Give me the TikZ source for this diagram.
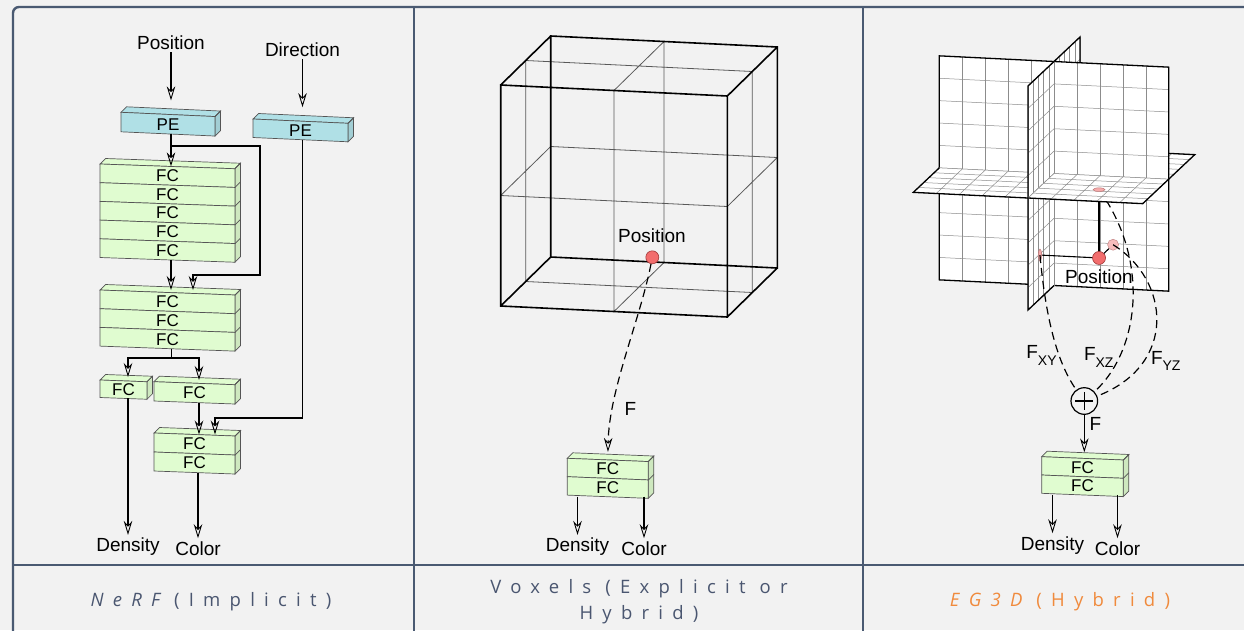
\documentclass[tikz,border=0pt]{standalone}
\usepackage{fontspec}
\setmainfont{Liberation Sans}
\newfontfamily\capfont[LetterSpace=50]{Open Sans}
\usetikzlibrary{arrows.meta,calc}
\definecolor{bgc}{HTML}{F2F2F2}
\definecolor{frame}{HTML}{4A5A72}
\definecolor{pefill}{HTML}{B0E0E6}
\definecolor{fcfill}{HTML}{E0FCD0}
\definecolor{boxline}{HTML}{555555}
\definecolor{capc}{HTML}{4A5670}
\definecolor{orng}{HTML}{F08A3C}
\definecolor{ballc}{HTML}{F26D6D}
\definecolor{ballline}{HTML}{A03A3A}
\definecolor{pinkc}{HTML}{F5ABAB}

\tikzset{
  >={Stealth[open,length=14pt,width=8.5pt,inset=4.5pt,line width=0.9pt]},
  lbl/.style={font=\fontsize{19}{22}\selectfont, anchor=base, inner sep=0pt, outer sep=3pt},
  fclbl/.style={font=\fontsize{17}{20}\selectfont, inner sep=0pt},
  arr/.style={line width=1.6pt, ->},
  conn/.style={line width=1.6pt},
  faceline/.style={draw=boxline, line width=0.7pt},
  frameline/.style={draw=frame, line width=2.4pt},
  cubeedge/.style={line width=1.6pt},
  cubemid/.style={line width=0.8pt, draw=black!65},
  gridl/.style={line width=0.5pt, draw=black!45},
  pedge/.style={line width=1.3pt},
  dashc/.style={line width=1.2pt, dash pattern=on 8pt off 5pt},
  ball/.style={circle, minimum size=13pt, inner sep=0pt, fill=ballc, draw=ballline, line width=0.6pt},
  capstyle/.style={font=\capfont\fontsize{18.5}{26}\selectfont, text=capc, align=center},
}

% name, x, y, w, h, n, fill, label, slope
\newcommand\fcblock[9]{%
  \pgfmathsetmacro\bx{#2}\pgfmathsetmacro\by{#3}\pgfmathsetmacro\bw{#4}\pgfmathsetmacro\bh{#5}%
  \pgfmathsetmacro\bs{#4*#9}\pgfmathsetmacro\bH{#5*#6}%
  \filldraw[faceline, fill=#7] (\bx,\by) -- ++(5.5,-5.5) -- ({\bx+\bw+5.5},{\by+\bs-5.5}) -- ({\bx+\bw},{\by+\bs}) -- cycle;
  \filldraw[faceline, fill=#7!92!black] ({\bx+\bw},{\by+\bs}) -- ++(5.5,-5.5) -- ++(0,\bH) -- ({\bx+\bw},{\by+\bs+\bH}) -- cycle;
  \foreach \i in {1,...,#6} {
    \filldraw[faceline, fill=#7] (\bx,{\by+(\i-1)*\bh}) -- ({\bx+\bw},{\by+\bs+(\i-1)*\bh}) -- ++(0,\bh) -- (\bx,{\by+\i*\bh}) -- cycle;
    \draw[faceline] ({\bx+\bw},{\by+\bs+(\i-1)*\bh}) -- ++(5.5,-5.5);
    \node[fclbl] (#1-\i) at ({\bx+\bw/2},{\by+\bs/2+(\i-0.5)*\bh}) {#8};
  }
  \coordinate (#1-top) at ({\bx+\bw/2},{\by+\bs/2});
  \coordinate (#1-bot) at ({\bx+\bw/2},{\by+\bs/2+\bH});
}
\newcommand\xzpatch[4]{%
  \fill[white] ({#1/5},0,{#3/5}) -- ({#2/5},0,{#3/5}) -- ({#2/5},0,{#4/5}) -- ({#1/5},0,{#4/5}) -- cycle;
  \foreach \k in {#1,...,#2} {\draw[gridl] ({\k/5},0,{#3/5}) -- ({\k/5},0,{#4/5});}
  \foreach \k in {#3,...,#4} {\draw[gridl] ({#1/5},0,{\k/5}) -- ({#2/5},0,{\k/5});}
}
\newcommand\yzpatch[4]{%
  \fill[white] (0,{#1/5},{#3/5}) -- (0,{#2/5},{#3/5}) -- (0,{#2/5},{#4/5}) -- (0,{#1/5},{#4/5}) -- cycle;
  \foreach \k in {#1,...,#2} {\draw[gridl] (0,{\k/5},{#3/5}) -- (0,{\k/5},{#4/5});}
  \foreach \k in {#3,...,#4} {\draw[gridl] (0,{#1/5},{\k/5}) -- (0,{#2/5},{\k/5});}
}

\begin{document}
\begin{tikzpicture}[x=1pt,y=-1pt]
\useasboundingbox (0,0) rectangle (1244,630);
\clip (0,0) rectangle (1244,630);
\fill[bgc] (0,0) rectangle (1244,630);

% ---------------- frame ----------------
\draw[frameline, rounded corners=6pt] (13,650) -- (13,7) -- (1260,7);
\draw[frameline] (414,7) -- (414,650) (863,7) -- (863,650) (13,565) -- (1260,565);

% ---------------- NeRF panel ----------------
\fcblock{pe1}{121}{112.3}{94}{19.5}{1}{pefill}{PE}{0.045}
\fcblock{pe2}{253}{119}{95}{18.5}{1}{pefill}{PE}{0.045}
\fcblock{s1}{100}{164}{135}{18.7}{5}{fcfill}{FC}{0.035}
\fcblock{s2}{100}{290}{135}{18.7}{3}{fcfill}{FC}{0.037}
\fcblock{fcd}{100}{380}{47}{17.5}{1}{fcfill}{FC}{0.037}
\fcblock{fcc}{154}{381.7}{81}{19.3}{1}{fcfill}{FC}{0.037}
\fcblock{s3}{154}{433}{81}{19}{2}{fcfill}{FC}{0.037}

\node[lbl] (lpos) at (171,49.3) {Position};
\node[lbl] (ldir) at (302.5,56) {Direction};
\node[lbl] (lden) at (128,551.7) {Density};
\node[lbl] (lcol) at (198,555) {Color};

\coordinate (br1) at (171,146);
\coordinate (br2) at (260,275);
\coordinate (br3) at (193,290);
\coordinate (sp) at (171.5,358);
\coordinate (fcdin) at (128,377);
\coordinate (fccin) at (199,380);
\coordinate (d1) at (215,418);

\draw[arr, shorten >=14pt] (lpos) -- (lpos |- pe1-top);
\draw[arr, shorten >=14pt] (ldir) -- (ldir |- pe2-top);
\draw[arr] (lpos |- pe1-bot) -- (lpos |- s1-top);
\draw[arr] (br1) -| (br2) -| (br3);
\draw[arr] (lpos |- s1-bot) -- (lpos |- br3);
\draw[conn] (sp |- s2-bot) -- (sp);
\draw[arr] (sp) -| (fcdin);
\draw[arr] (sp) -| (fccin);
\draw[arr] (fcdin |- fcd-bot) -- (lden);
\draw[arr] (fccin |- fcc-bot) -- (fccin |- s3-top);
\draw[arr] (ldir |- pe2-bot) |- (d1) -- (d1 |- s3-top);
\draw[arr] (lcol |- s3-bot) -- (lcol);

% ---------------- Voxel panel ----------------
\begin{scope}[shift={(500.7,306)}, x={(226.6pt,-11pt)}, y={(0pt,221pt)}, z={(50pt,49pt)}]
  \draw[cubemid] (0.5,0,0)--(0.5,1,0) (0,0.5,0)--(1,0.5,0) (0.5,0,1)--(0.5,1,1) (0,0.5,1)--(1,0.5,1)
    (0,0.5,0)--(0,0.5,1) (0,0,0.5)--(0,1,0.5) (1,0.5,0)--(1,0.5,1) (1,0,0.5)--(1,1,0.5)
    (0.5,1,0)--(0.5,1,1) (0,1,0.5)--(1,1,0.5) (0.5,0,0)--(0.5,0,1) (0,0,0.5)--(1,0,0.5);
  \draw[cubeedge] (0,0,0)--(1,0,0)--(1,1,0)--(0,1,0)--cycle (0,0,1)--(1,0,1)--(1,1,1)--(0,1,1)--cycle
    (0,0,0)--(0,0,1) (1,0,0)--(1,0,1) (1,1,0)--(1,1,1) (0,1,0)--(0,1,1);
\end{scope}
\fcblock{s4}{567.3}{458.3}{81}{18.4}{2}{fcfill}{FC}{0.04}
\node[lbl] (mposl) at (652,242.7) {Position};
\node[ball] (mpos) at (652.3,257.3) {};
\node[lbl] (mF) at (630.5,415) {F};
\node[lbl] (mden) at (577.5,551.7) {Density};
\node[lbl] (mcol) at (644,555) {Color};
\draw[dashc, ->, shorten >=8pt] (mpos) .. controls (640,320) and (609,390) .. (s4-top);
\draw[arr] (mden |- s4-bot) -- (mden);
\draw[arr] (mcol |- s4-bot) -- (mcol);

% ---------------- EG3D panel ----------------
\begin{scope}[shift={(1054,173.5)}, x={(114.7pt,-5.65pt)}, y={(0pt,112pt)}, z={(26pt,24.5pt)}]
  % back halves
  \xzpatch{-5}{0}{0}{5}
  \draw[pedge] (-1,0,0) -- (-1,0,1) -- (0,0,1);
  \yzpatch{0}{5}{0}{5}
  \draw[pedge] (0,1,0) -- (0,1,1) -- (0,0,1);
  \yzpatch{-5}{0}{0}{5}
  \draw[pedge] (0,-1,0) -- (0,-1,1) -- (0,0,1);
  \xzpatch{0}{5}{0}{5}
  \draw[pedge] (0,0,1) -- (1,0,1) -- (1,0,0);
  % XY plane
  \fill[white] (-1,-1,0) -- (1,-1,0) -- (1,1,0) -- (-1,1,0) -- cycle;
  \foreach \k in {-4,...,4} {\draw[gridl] ({\k/5},-1,0) -- ({\k/5},1,0); \draw[gridl] (-1,{\k/5},0) -- (1,{\k/5},0);}
  \draw[pedge] (-1,-1,0) -- (1,-1,0) -- (1,1,0) -- (-1,1,0) -- cycle;
  % front halves
  \xzpatch{-5}{0}{-5}{0}
  \draw[pedge] (-1,0,0) -- (-1,0,-1) -- (0,0,-1);
  \yzpatch{0}{5}{-5}{0}
  \draw[pedge] (0,1,0) -- (0,1,-1) -- (0,0,-1);
  \yzpatch{-5}{0}{-5}{0}
  \draw[pedge] (0,-1,0) -- (0,-1,-1) -- (0,0,-1);
  \coordinate (P) at (0.515,-0.61,-0.54);
  \coordinate (xzdot) at (0.515,0,-0.54);
  \coordinate (yzdot) at (0,-0.61,-0.54);
  \coordinate (xydot) at (0.515,-0.61,0);
\end{scope}
\node[draw, circle, minimum size=26.6pt, inner sep=0pt, line width=1.2pt] (plus) at (1084.3,401) {};
\draw[line width=1.1pt] ($(plus.center)+(-9,0)$) -- ($(plus.center)+(9,0)$) ($(plus.center)+(0,-9)$) -- ($(plus.center)+(0,9)$);
% hidden parts (under the front-right quarter of the XZ plane)
\draw[line width=1.1pt] (P) -- (xzdot);
\draw[dashc] (xzdot) .. controls (1150,260) and (1140,350) .. (plus);
\begin{scope}[shift={(1054,173.5)}, x={(114.7pt,-5.65pt)}, y={(0pt,112pt)}, z={(26pt,24.5pt)}]
  \xzpatch{0}{5}{-5}{0}
  \draw[pedge] (0,0,-1) -- (1,0,-1) -- (1,0,0);
\end{scope}
\draw[line width=1.1pt] (P) -- (yzdot) (P) -- (xydot);
\filldraw[fill=pinkc, draw=ballline!70, line width=0.5pt] (xzdot) ellipse [x radius=6pt, y radius=1.8pt];
\filldraw[fill=pinkc, draw=ballline!70, line width=0.5pt] (yzdot) ellipse [x radius=1.6pt, y radius=6pt];
\filldraw[fill=pinkc!80!white, draw=ballline!60, line width=0.5pt] (xydot) circle [radius=5.5pt];
\node[ball] (rpos) at (P) {};
\node[lbl] (rposl) at (1099,283.3) {Position};

\draw[dashc] (yzdot) .. controls (1045,310) and (1055,360) .. (plus);
\draw[dashc] (xydot) .. controls (1170,280) and (1178,365) .. (plus);

\node[lbl, anchor=base west] (fxy) at (1023.3,358.3) {F\raisebox{-6.7pt}{\fontsize{14}{14}\selectfont XY}};
\node[lbl, anchor=base west] (fxz) at (1081,360.7) {F\raisebox{-6.7pt}{\fontsize{14}{14}\selectfont XZ}};
\node[lbl, anchor=base west] (fyz) at (1148,364) {F\raisebox{-6.7pt}{\fontsize{14}{14}\selectfont YZ}};
\node[lbl] (rF) at (1095.5,430) {F};

\fcblock{s5}{1041.7}{456.7}{81.6}{18.3}{2}{fcfill}{FC}{0.04}
\draw[arr, shorten >=6pt] (plus) -- (plus |- s5-top);
\node[lbl] (rden) at (1052.5,550) {Density};
\node[lbl] (rcol) at (1117.5,555) {Color};
\draw[arr] (rden |- s5-bot) -- (rden);
\draw[arr] (rcol |- s5-bot) -- (rcol);

% ---------------- captions ----------------
\node[capstyle] (cap1) at (211,602) {\itshape NeRF\upshape{} (Implicit)};
\node[capstyle] (cap2) at (639,602) {Voxels (Explicit or\\Hybrid)};
\node[capstyle, text=orng] (cap3) at (1060,602) {\itshape EG3D\upshape{} (Hybrid)};
\end{tikzpicture}
\end{document}
